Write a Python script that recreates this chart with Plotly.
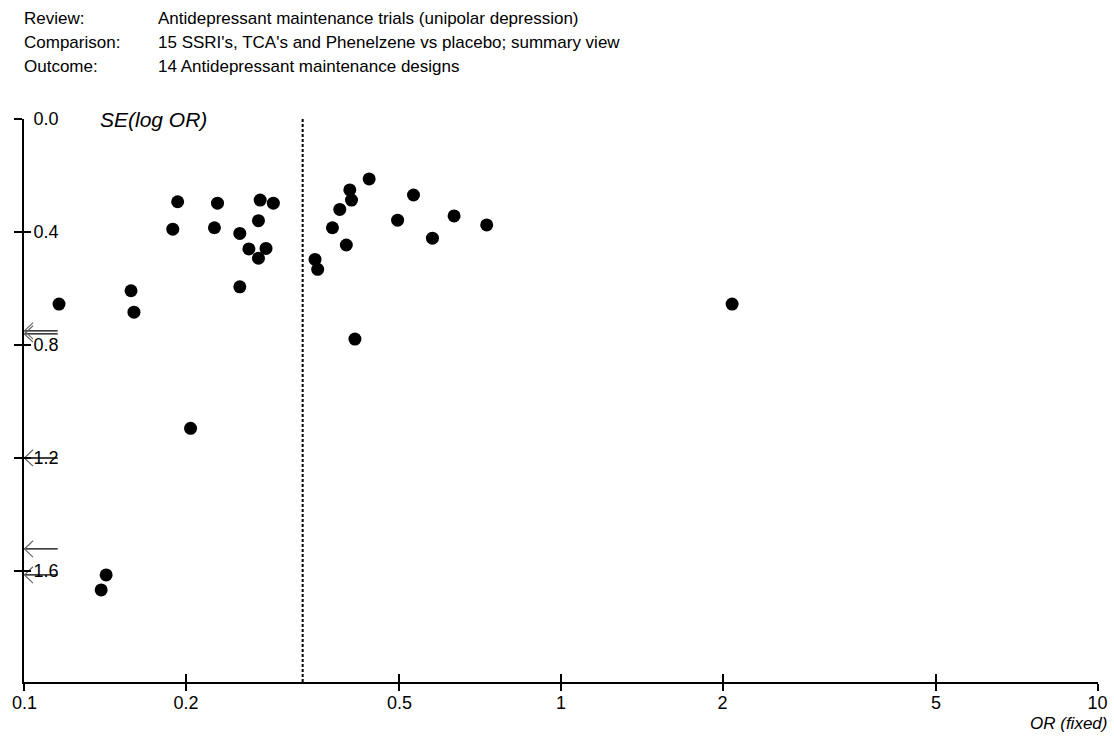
import math
import plotly.graph_objects as go

# ---- data ----
header_labels = ["Review:", "Comparison:", "Outcome:"]
header_values = [
    "Antidepressant maintenance trials (unipolar depression)",
    "15 SSRI's, TCA's and Phenelzene vs placebo; summary view",
    "14 Antidepressant maintenance designs",
]

odds_ratio = [0.193, 0.229, 0.275, 0.291, 0.189, 0.226, 0.273, 0.252, 0.262, 0.282,
              0.273, 0.252, 0.158, 0.160, 0.439, 0.404, 0.407, 0.387, 0.375, 0.398,
              0.348, 0.352, 0.531, 0.496, 0.632, 0.576, 0.727, 0.413, 0.116, 0.204,
              0.142, 0.139, 2.084]
se_log_or = [0.293, 0.298, 0.287, 0.298, 0.390, 0.385, 0.360, 0.405, 0.460, 0.458,
             0.493, 0.594, 0.608, 0.684, 0.212, 0.251, 0.287, 0.320, 0.385, 0.446,
             0.497, 0.532, 0.269, 0.358, 0.343, 0.422, 0.375, 0.779, 0.655, 1.095,
             1.614, 1.667, 0.655]

# studies with OR below the axis minimum (drawn as arrows at the left edge)
offscale_se = [0.750, 0.761, 1.200, 1.522, 1.614]

pooled_or = 0.330

x_ticks = [0.1, 0.2, 0.5, 1, 2, 5, 10]
x_tick_text = ["0.1", "0.2", "0.5", "1", "2", "5", "10"]
y_ticks = [0.0, 0.4, 0.8, 1.2, 1.6]
y_tick_text = ["0.0", "0.4", "0.8", "1.2", "1.6"]

x_min, x_max = 0.1, 10
y_top, y_bottom = 0.0, 1.993

# ---- figure ----
FONT = "Liberation Sans, Arial, sans-serif"
W, H = 1114, 736
ML, MR, MT, MB = 24, 16, 119, 54
XPAD = 0.0008                # tiny range padding so the end ticks are kept

fig = go.Figure()

# pooled estimate (dashed vertical line)
fig.add_trace(go.Scatter(
    x=[pooled_or, pooled_or], y=[y_top, y_bottom], mode="lines",
    line=dict(color="black", width=2, dash="3px,2px"),
    hoverinfo="skip", showlegend=False, cliponaxis=False))

# off-scale arrows
arrow_len = 10 ** 0.062
head_len = 10 ** 0.016
head_h = 0.029
ax_x, ax_y, hd_x, hd_y = [], [], [], []
for s in offscale_se:
    ax_x += [x_min, x_min * arrow_len, None]
    ax_y += [s, s, None]
    hd_x += [x_min * head_len, x_min, x_min * head_len, None]
    hd_y += [s - head_h, s, s + head_h, None]
fig.add_trace(go.Scatter(x=ax_x, y=ax_y, mode="lines",
                         line=dict(color="black", width=1.3),
                         hoverinfo="skip", showlegend=False, cliponaxis=False))
fig.add_trace(go.Scatter(x=hd_x, y=hd_y, mode="lines",
                         line=dict(color="#666666", width=1.2),
                         hoverinfo="skip", showlegend=False, cliponaxis=False))

# study points
fig.add_trace(go.Scatter(
    x=odds_ratio, y=se_log_or, mode="markers",
    marker=dict(color="black", size=13, line=dict(width=0)),
    showlegend=False, cliponaxis=False))

# invisible trace to anchor the overlay axes (inside half of the cross ticks)
fig.add_trace(go.Scatter(x=[x_min], y=[y_bottom], xaxis="x2", yaxis="y2",
                         mode="markers", marker=dict(opacity=0),
                         hoverinfo="skip", showlegend=False))

tickfont = dict(family=FONT, size=18, color="black")
xrange = [math.log10(x_min) - XPAD, math.log10(x_max) + XPAD]

fig.update_layout(
    template="none",
    autosize=False,
    width=W, height=H,
    margin=dict(l=ML, r=MR, t=MT, b=MB, pad=0, autoexpand=False),
    paper_bgcolor="white", plot_bgcolor="white",
    font=dict(family=FONT, size=17, color="black"),
    xaxis=dict(type="log", range=xrange, automargin=False,
               tickvals=x_ticks, ticktext=x_tick_text, ticks="outside",
               ticklen=7, tickwidth=2, tickcolor="black", ticklabeloverflow="allow",
               ticklabelstandoff=-4,
               showline=True, linecolor="black", linewidth=2,
               showgrid=False, zeroline=False, tickfont=tickfont),
    yaxis=dict(range=[y_bottom, y_top], tickvals=y_ticks, ticktext=y_tick_text,
               automargin=False,
               ticks="outside", ticklen=8, tickwidth=2, tickcolor="black",
               ticklabelposition="inside", ticklabeloverflow="allow",
               ticklabelstandoff=10, showline=True, linecolor="black",
               linewidth=2, showgrid=False, zeroline=False, tickfont=tickfont),
    xaxis2=dict(type="log", range=xrange, automargin=False,
                overlaying="x", anchor="y2", side="bottom",
                tickvals=x_ticks, ticks="inside", ticklen=8, tickwidth=2,
                tickcolor="black", showticklabels=False, showline=False,
                showgrid=False, zeroline=False),
    yaxis2=dict(range=[y_bottom, y_top], overlaying="y", anchor="x2", side="left",
                automargin=False,
                tickvals=y_ticks, ticks="inside", ticklen=7, tickwidth=2,
                tickcolor="black", showticklabels=False, showline=False,
                showgrid=False, zeroline=False),
)

pw = W - ML - MR
ph = H - MT - MB


def px_x(x):
    # page pixel -> paper fraction
    return (x - ML) / pw


def px_y(y):
    return (H - MB - y) / ph


annotations = []
for i, (lab, val) in enumerate(zip(header_labels, header_values)):
    yy = px_y(18 + 24 * i)
    annotations.append(dict(text=lab, x=px_x(22), y=yy, xref="paper", yref="paper",
                            xanchor="left", yanchor="middle", showarrow=False,
                            font=dict(family=FONT, size=17, color="black")))
    annotations.append(dict(text=val, x=px_x(156), y=yy, xref="paper", yref="paper",
                            xanchor="left", yanchor="middle", showarrow=False,
                            font=dict(family=FONT, size=17, color="black")))

annotations.append(dict(text="<i>SE(log OR)</i>", x=px_x(98), y=px_y(120),
                        xref="paper", yref="paper", xanchor="left", yanchor="middle",
                        showarrow=False, font=dict(family=FONT, size=21, color="black")))
annotations.append(dict(text="<i>OR (fixed)</i>", x=px_x(1109), y=px_y(723),
                        xref="paper", yref="paper", xanchor="right", yanchor="middle",
                        showarrow=False, font=dict(family=FONT, size=17, color="black")))

fig.update_layout(annotations=annotations)

fig.write_html(
    "out.html",
    config={"displayModeBar": False, "responsive": False},
    post_script="document.body.style.margin='0';document.body.style.overflow='hidden';",
)
